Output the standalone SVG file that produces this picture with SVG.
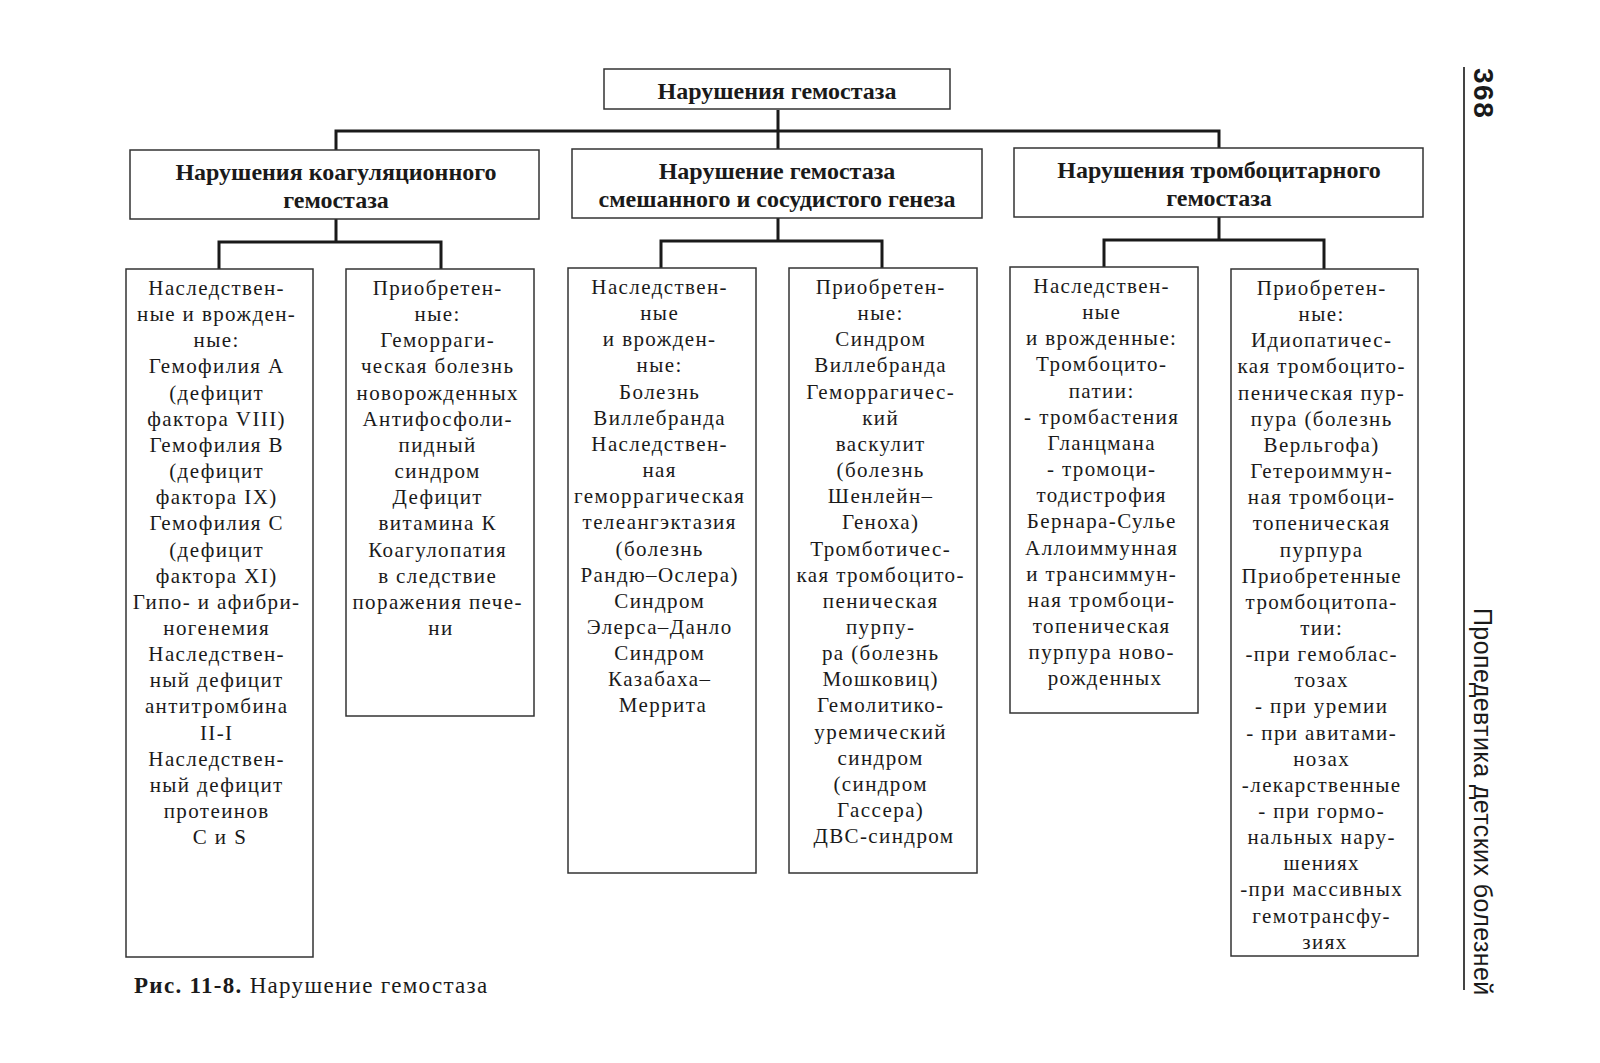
<svg xmlns="http://www.w3.org/2000/svg" width="1600" height="1063" viewBox="0 0 1600 1063">
<style>
.box{fill:#fff;stroke:#333;stroke-width:1.5}
.conn{fill:none;stroke:#1a1a1a;stroke-width:3}
.t{font-family:"Liberation Serif","Times New Roman",serif;fill:#1a1a1a;text-anchor:middle}
.h{font-size:24px;font-weight:bold}
.b{font-size:21px;letter-spacing:1.4px}
.cap{font-family:"Liberation Serif","Times New Roman",serif;font-size:23px;fill:#1a1a1a;letter-spacing:1.3px}
.run{font-family:"Liberation Sans",Arial,sans-serif;fill:#1a1a1a}
</style>
<rect width="1600" height="1063" fill="#fff"/>

<g id="connectors">
<path class="conn" d="M336,150 V131 H1219 V148 M778,110 V149"/>
<path class="conn" d="M336,219 V242 M219,269 V242 H441 V269"/>
<path class="conn" d="M778,218 V241 M661,268 V241 H882 V268"/>
<path class="conn" d="M1219,217 V240 M1104,267 V240 H1324 V269"/>
</g>

<g id="root">
<rect class="box" x="604" y="69" width="346" height="40"/>
<text class="t h" x="777" y="99">Нарушения гемостаза</text>
</g>

<g id="coag">
<rect class="box" x="130" y="150" width="409" height="69"/>
<text class="t h" x="336" y="180">Нарушения коагуляционного</text>
<text class="t h" x="336" y="208">гемостаза</text>
</g>

<g id="mixed">
<rect class="box" x="572" y="149" width="410" height="69"/>
<text class="t h" x="777" y="179">Нарушение гемостаза</text>
<text class="t h" x="777" y="207">смешанного и сосудистого генеза</text>
</g>

<g id="platelet">
<rect class="box" x="1014" y="148" width="409" height="69"/>
<text class="t h" x="1219" y="178">Нарушения тромбоцитарного</text>
<text class="t h" x="1219" y="206">гемостаза</text>
</g>

<g id="coag-hereditary">
<rect class="box" x="126" y="269" width="187" height="688"/>
<text class="t b" x="220" y="295">
<tspan x="220">Наследствен-</tspan>
<tspan x="220" dy="26.15">ные и врожден-</tspan>
<tspan x="220" dy="26.15">ные:</tspan>
<tspan x="220" dy="26.15">Гемофилия А</tspan>
<tspan x="220" dy="26.15">(дефицит</tspan>
<tspan x="220" dy="26.15">фактора VIII)</tspan>
<tspan x="220" dy="26.15">Гемофилия В</tspan>
<tspan x="220" dy="26.15">(дефицит</tspan>
<tspan x="220" dy="26.15">фактора IX)</tspan>
<tspan x="220" dy="26.15">Гемофилия С</tspan>
<tspan x="220" dy="26.15">(дефицит</tspan>
<tspan x="220" dy="26.15">фактора XI)</tspan>
<tspan x="220" dy="26.15">Гипо- и афибри-</tspan>
<tspan x="220" dy="26.15">ногенемия</tspan>
<tspan x="220" dy="26.15">Наследствен-</tspan>
<tspan x="220" dy="26.15">ный дефицит</tspan>
<tspan x="220" dy="26.15">антитромбина</tspan>
<tspan x="220" dy="26.15">II-I</tspan>
<tspan x="220" dy="26.15">Наследствен-</tspan>
<tspan x="220" dy="26.15">ный дефицит</tspan>
<tspan x="220" dy="26.15">протеинов</tspan>
<tspan x="220" dy="26.15">C и S</tspan>
</text>
</g>

<g id="coag-acquired">
<rect class="box" x="346" y="269" width="188" height="447"/>
<text class="t b" x="441" y="295">
<tspan x="441">Приобретен-</tspan>
<tspan x="441" dy="26.15">ные:</tspan>
<tspan x="441" dy="26.15">Геморраги-</tspan>
<tspan x="441" dy="26.15">ческая болезнь</tspan>
<tspan x="441" dy="26.15">новорожденных</tspan>
<tspan x="441" dy="26.15">Антифосфоли-</tspan>
<tspan x="441" dy="26.15">пидный</tspan>
<tspan x="441" dy="26.15">синдром</tspan>
<tspan x="441" dy="26.15">Дефицит</tspan>
<tspan x="441" dy="26.15">витамина К</tspan>
<tspan x="441" dy="26.15">Коагулопатия</tspan>
<tspan x="441" dy="26.15">в следствие</tspan>
<tspan x="441" dy="26.15">поражения пече-</tspan>
<tspan x="441" dy="26.15">ни</tspan>
</text>
</g>

<g id="mixed-hereditary">
<rect class="box" x="568" y="268" width="188" height="605"/>
<text class="t b" x="663" y="294">
<tspan x="663">Наследствен-</tspan>
<tspan x="663" dy="26.15">ные</tspan>
<tspan x="663" dy="26.15">и врожден-</tspan>
<tspan x="663" dy="26.15">ные:</tspan>
<tspan x="663" dy="26.15">Болезнь</tspan>
<tspan x="663" dy="26.15">Виллебранда</tspan>
<tspan x="663" dy="26.15">Наследствен-</tspan>
<tspan x="663" dy="26.15">ная</tspan>
<tspan x="663" dy="26.15">геморрагическая</tspan>
<tspan x="663" dy="26.15">телеангэктазия</tspan>
<tspan x="663" dy="26.15">(болезнь</tspan>
<tspan x="663" dy="26.15">Рандю–Ослера)</tspan>
<tspan x="663" dy="26.15">Синдром</tspan>
<tspan x="663" dy="26.15">Элерса–Данло</tspan>
<tspan x="663" dy="26.15">Синдром</tspan>
<tspan x="663" dy="26.15">Казабаха–</tspan>
<tspan x="663" dy="26.15">Меррита</tspan>
</text>
</g>

<g id="mixed-acquired">
<rect class="box" x="789" y="268" width="188" height="605"/>
<text class="t b" x="884" y="294">
<tspan x="884">Приобретен-</tspan>
<tspan x="884" dy="26.15">ные:</tspan>
<tspan x="884" dy="26.15">Синдром</tspan>
<tspan x="884" dy="26.15">Виллебранда</tspan>
<tspan x="884" dy="26.15">Геморрагичес-</tspan>
<tspan x="884" dy="26.15">кий</tspan>
<tspan x="884" dy="26.15">васкулит</tspan>
<tspan x="884" dy="26.15">(болезнь</tspan>
<tspan x="884" dy="26.15">Шенлейн–</tspan>
<tspan x="884" dy="26.15">Геноха)</tspan>
<tspan x="884" dy="26.15">Тромботичес-</tspan>
<tspan x="884" dy="26.15">кая тромбоцито-</tspan>
<tspan x="884" dy="26.15">пеническая</tspan>
<tspan x="884" dy="26.15">пурпу-</tspan>
<tspan x="884" dy="26.15">ра (болезнь</tspan>
<tspan x="884" dy="26.15">Мошковиц)</tspan>
<tspan x="884" dy="26.15">Гемолитико-</tspan>
<tspan x="884" dy="26.15">уремический</tspan>
<tspan x="884" dy="26.15">синдром</tspan>
<tspan x="884" dy="26.15">(синдром</tspan>
<tspan x="884" dy="26.15">Гассера)</tspan>
<tspan x="884" dy="26.15">ДВС-синдром</tspan>
</text>
</g>

<g id="platelet-hereditary">
<rect class="box" x="1010" y="267" width="188" height="446"/>
<text class="t b" x="1105" y="293">
<tspan x="1105">Наследствен-</tspan>
<tspan x="1105" dy="26.15">ные</tspan>
<tspan x="1105" dy="26.15">и врожденные:</tspan>
<tspan x="1105" dy="26.15">Тромбоцито-</tspan>
<tspan x="1105" dy="26.15">патии:</tspan>
<tspan x="1105" dy="26.15">- тромбастения</tspan>
<tspan x="1105" dy="26.15">Гланцмана</tspan>
<tspan x="1105" dy="26.15">- тромоци-</tspan>
<tspan x="1105" dy="26.15">тодистрофия</tspan>
<tspan x="1105" dy="26.15">Бернара-Сулье</tspan>
<tspan x="1105" dy="26.15">Аллоиммунная</tspan>
<tspan x="1105" dy="26.15">и трансиммун-</tspan>
<tspan x="1105" dy="26.15">ная тромбоци-</tspan>
<tspan x="1105" dy="26.15">топеническая</tspan>
<tspan x="1105" dy="26.15">пурпура ново-</tspan>
<tspan x="1105" dy="26.15">рожденных</tspan>
</text>
</g>

<g id="platelet-acquired">
<rect class="box" x="1231" y="269" width="187" height="687"/>
<text class="t b" x="1325" y="295">
<tspan x="1325">Приобретен-</tspan>
<tspan x="1325" dy="26.15">ные:</tspan>
<tspan x="1325" dy="26.15">Идиопатичес-</tspan>
<tspan x="1325" dy="26.15">кая тромбоцито-</tspan>
<tspan x="1325" dy="26.15">пеническая пур-</tspan>
<tspan x="1325" dy="26.15">пура (болезнь</tspan>
<tspan x="1325" dy="26.15">Верльгофа)</tspan>
<tspan x="1325" dy="26.15">Гетероиммун-</tspan>
<tspan x="1325" dy="26.15">ная тромбоци-</tspan>
<tspan x="1325" dy="26.15">топеническая</tspan>
<tspan x="1325" dy="26.15">пурпура</tspan>
<tspan x="1325" dy="26.15">Приобретенные</tspan>
<tspan x="1325" dy="26.15">тромбоцитопа-</tspan>
<tspan x="1325" dy="26.15">тии:</tspan>
<tspan x="1325" dy="26.15">-при гемоблас-</tspan>
<tspan x="1325" dy="26.15">тозах</tspan>
<tspan x="1325" dy="26.15">- при уремии</tspan>
<tspan x="1325" dy="26.15">- при авитами-</tspan>
<tspan x="1325" dy="26.15">нозах</tspan>
<tspan x="1325" dy="26.15">-лекарственные</tspan>
<tspan x="1325" dy="26.15">- при гормо-</tspan>
<tspan x="1325" dy="26.15">нальных нару-</tspan>
<tspan x="1325" dy="26.15">шениях</tspan>
<tspan x="1325" dy="26.15">-при массивных</tspan>
<tspan x="1325" dy="26.15">гемотрансфу-</tspan>
<tspan x="1325" dy="26.15">зиях</tspan>
</text>
</g>

<text class="cap" x="134" y="993"><tspan font-weight="bold">Рис. 11-8.</tspan> Нарушение гемостаза</text>

<line x1="1464" y1="67" x2="1464" y2="990" stroke="#444" stroke-width="2"/>
<text class="run" font-size="28" font-weight="bold" letter-spacing="1.5" transform="translate(1474,68) rotate(90)">368</text>
<text class="run" font-size="25" letter-spacing="0.4" transform="translate(1474,608) rotate(90)">Пропедевтика детских болезней</text>
</svg>
